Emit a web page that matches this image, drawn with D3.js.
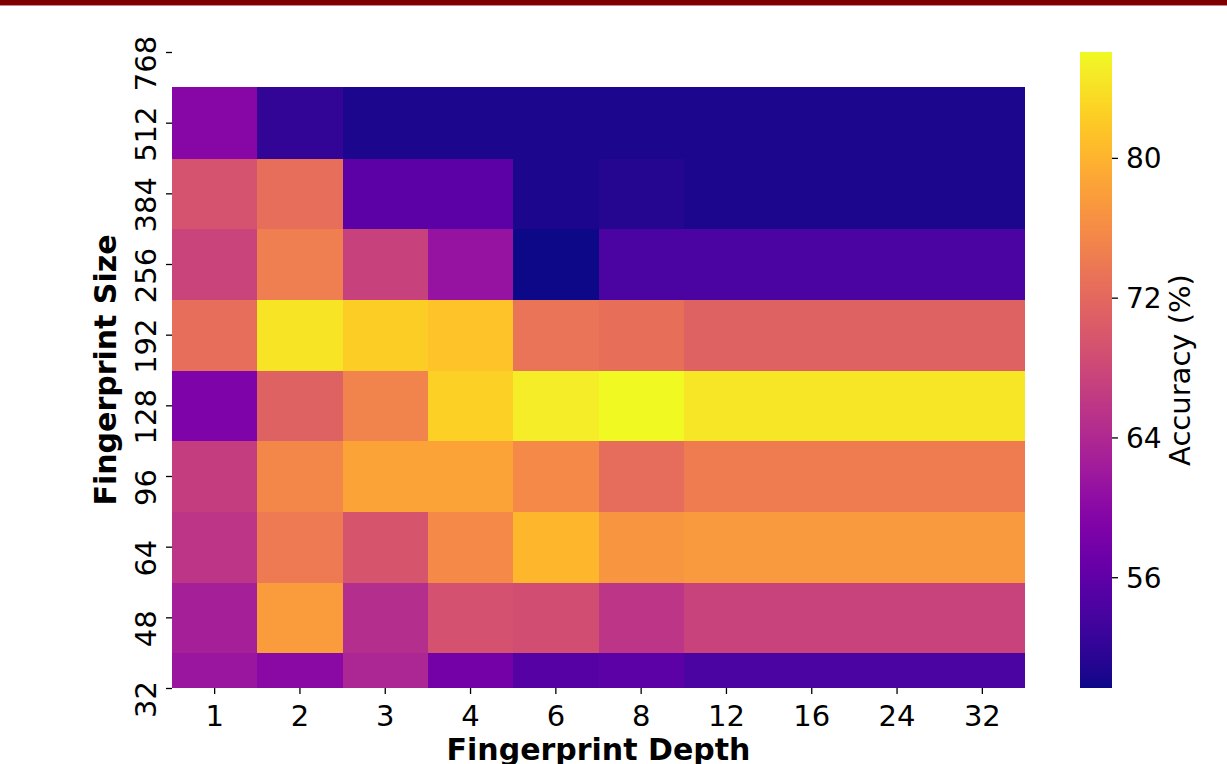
<!DOCTYPE html>
<html>
<head>
<meta charset="utf-8">
<script src="https://cdn.jsdelivr.net/npm/d3@7"></script>
<style>
  html, body { margin: 0; padding: 0; background: #fff; }
  svg { display: block; }
  text { font-family: "DejaVu Sans", sans-serif; fill: #000; }
</style>
</head>
<body>
<svg id="chart" width="1227" height="764"></svg>
<script>
// Column categories (Fingerprint Depth)
const depths = ["1", "2", "3", "4", "6", "8", "12", "16", "24", "32"];
// Y tick labels (Fingerprint Size), bottom to top
const sizeTicks = ["32", "48", "64", "96", "128", "192", "256", "384", "512", "768"];
// Rows that carry data (bottom to top)
const sizes = ["32", "48", "64", "96", "128", "192", "256", "384", "512"];
// Accuracy (%) per row, one value per depth
const acc32  = [61.7, 59.9, 63.7, 57.9, 55.2, 55.7, 54.2, 54.2, 54.2, 54.2];
const acc48  = [62.8, 77.7, 64.6, 69.2, 68.8, 65.7, 67.4, 67.4, 67.4, 67.4];
const acc64  = [65.7, 74.1, 69.7, 75.7, 80.3, 77.0, 77.5, 77.5, 77.5, 77.5];
const acc96  = [66.8, 75.5, 78.5, 78.5, 75.7, 72.5, 74.3, 74.3, 74.3, 74.3];
const acc128 = [58.8, 71.2, 75.0, 82.6, 85.0, 86.1, 84.4, 84.4, 84.4, 84.4];
const acc192 = [72.6, 84.3, 82.5, 81.4, 73.4, 72.7, 71.2, 71.2, 71.2, 71.2];
const acc256 = [67.5, 74.5, 67.2, 61.3, 49.7, 54.1, 54.1, 54.1, 54.1, 54.1];
const acc384 = [69.4, 72.6, 55.5, 55.5, 50.4, 51.0, 50.4, 50.4, 50.4, 50.4];
const acc512 = [59.5, 52.2, 50.4, 50.4, 50.4, 50.4, 50.4, 50.4, 50.4, 50.4];
const rowsData = [acc32, acc48, acc64, acc96, acc128, acc192, acc256, acc384, acc512];
// Colour bar
const colorTicks = [56, 64, 72, 80];
const colorDomain = [49.66, 86.06];

const svg = d3.select("#chart");

// top banner
svg.append("rect").attr("x", 0).attr("y", 0).attr("width", 1227).attr("height", 5).attr("fill", "#800000");
svg.append("rect").attr("x", 0).attr("y", 5).attr("width", 1227).attr("height", 1).attr("fill", "#c98a8a");

const plot = { left: 172, right: 1025, top: 52, bottom: 688 };

const x = d3.scaleBand().domain(depths).range([plot.left, plot.right]).paddingInner(0).paddingOuter(0);
const y = d3.scaleLinear().domain([0, sizeTicks.length - 1]).range([plot.bottom, plot.top]);
const color = d3.scaleSequential(d3.interpolatePlasma).domain(colorDomain);

// clip
svg.append("defs").append("clipPath").attr("id", "plotclip")
  .append("rect").attr("x", plot.left).attr("y", plot.top)
  .attr("width", plot.right - plot.left).attr("height", plot.bottom - plot.top);

const cells = [];
rowsData.forEach((row, i) => {
  row.forEach((v, j) => cells.push({ i, depth: depths[j], v }));
});

svg.append("g").attr("clip-path", "url(#plotclip)")
  .selectAll("rect").data(cells).enter().append("rect")
  .attr("x", d => x(d.depth))
  .attr("width", x.bandwidth() + 0.5)
  .attr("y", d => y(d.i + 0.5))
  .attr("height", d => y(d.i - 0.5) - y(d.i + 0.5) + 0.5)
  .attr("fill", d => color(d.v))
  .attr("shape-rendering", "crispEdges");

// X axis
const xAxis = svg.append("g").attr("transform", `translate(0,${plot.bottom})`)
  .call(d3.axisBottom(x).tickSize(6).tickSizeOuter(0));
xAxis.select(".domain").remove();
xAxis.selectAll(".tick line").attr("stroke", "#000").attr("stroke-width", 1.3);
xAxis.selectAll(".tick text").attr("font-size", 29).attr("dy", 0).attr("y", 38)
  .style("font-family", "DejaVu Sans, sans-serif");

// Y axis
const yAxis = svg.append("g").attr("transform", `translate(${plot.left},0)`)
  .call(d3.axisLeft(y).tickValues(d3.range(sizeTicks.length)).tickFormat(i => sizeTicks[i]).tickSize(6).tickSizeOuter(0));
yAxis.select(".domain").remove();
yAxis.selectAll(".tick line").attr("stroke", "#000").attr("stroke-width", 1.3);
yAxis.selectAll(".tick text")
  .attr("x", 0).attr("dy", 0)
  .attr("text-anchor", "middle")
  .attr("transform", "translate(-16,11) rotate(-90)")
  .attr("font-size", 29)
  .style("font-family", "DejaVu Sans, sans-serif");

// axis titles (x title is cropped at the bottom edge, as in the reference)
svg.append("text")
  .attr("x", (plot.left + plot.right) / 2).attr("y", 760)
  .attr("text-anchor", "middle").attr("font-size", 30).attr("font-weight", "bold")
  .text("Fingerprint Depth");
svg.append("text")
  .attr("transform", `translate(116,${(plot.top + plot.bottom) / 2}) rotate(-90)`)
  .attr("text-anchor", "middle").attr("font-size", 30).attr("font-weight", "bold")
  .text("Fingerprint Size");

// Colour bar
const cb = { x: 1080, w: 32, top: 52, bottom: 688 };
const cbScale = d3.scaleLinear().domain(colorDomain).range([cb.bottom, cb.top]);
const grad = svg.select("defs").append("linearGradient").attr("id", "cbgrad")
  .attr("x1", 0).attr("y1", 1).attr("x2", 0).attr("y2", 0);
d3.range(0, 1.0001, 0.02).forEach(t => {
  grad.append("stop").attr("offset", t).attr("stop-color", d3.interpolatePlasma(t));
});
svg.append("rect").attr("x", cb.x).attr("y", cb.top).attr("width", cb.w).attr("height", cb.bottom - cb.top)
  .attr("fill", "url(#cbgrad)");
const cAxis = svg.append("g").attr("transform", `translate(${cb.x + cb.w},0)`)
  .call(d3.axisRight(cbScale).tickValues(colorTicks).tickSize(6).tickSizeOuter(0));
cAxis.select(".domain").remove();
cAxis.selectAll(".tick line").attr("stroke", "#000").attr("stroke-width", 1.3);
cAxis.selectAll(".tick text").attr("font-size", 28).attr("x", 14).attr("dy", "0.36em")
  .style("font-family", "DejaVu Sans, sans-serif");
svg.append("text")
  .attr("transform", `translate(1190,${(cb.top + cb.bottom) / 2}) rotate(-90)`)
  .attr("text-anchor", "middle").attr("font-size", 29)
  .text("Accuracy (%)");
</script>
</body>
</html>
